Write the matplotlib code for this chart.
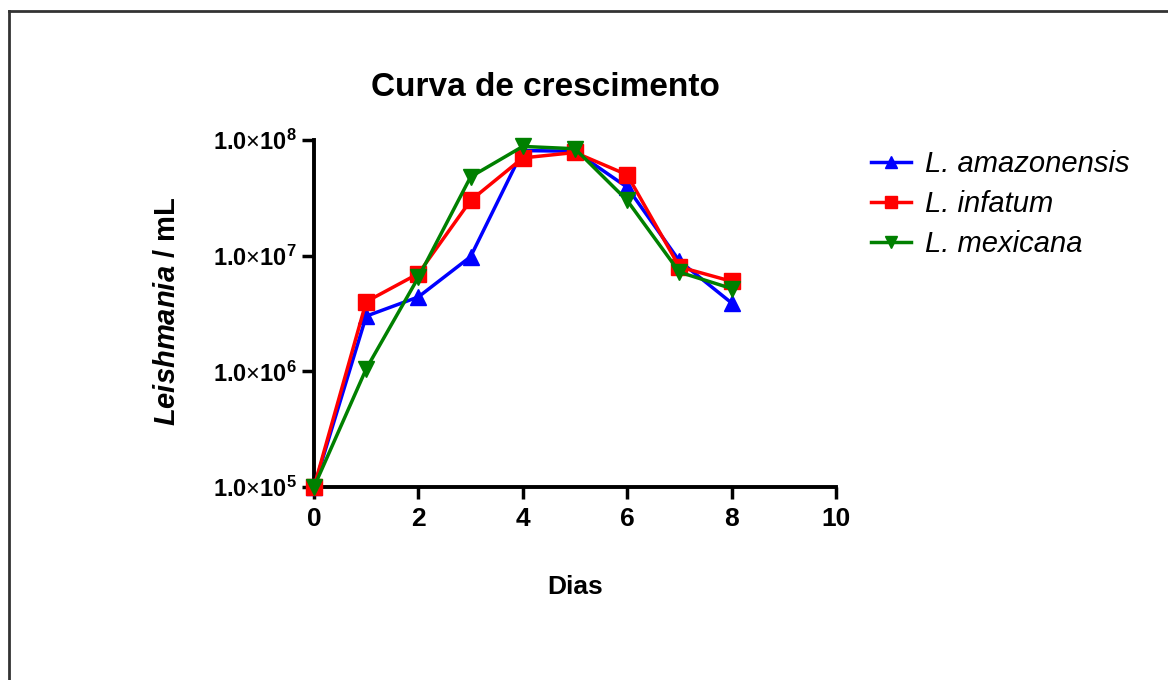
import numpy as np
import matplotlib.pyplot as plt
from matplotlib.lines import Line2D

plt.rcParams['font.family'] = ['Liberation Sans', 'DejaVu Sans']
plt.rcParams['mathtext.fontset'] = 'custom'
plt.rcParams['mathtext.rm'] = 'Liberation Sans'
plt.rcParams['mathtext.it'] = 'Liberation Sans:italic'
plt.rcParams['mathtext.bf'] = 'Liberation Sans:bold'
plt.rcParams['mathtext.bfit'] = 'Liberation Sans:italic:bold'

# growth curves (parasites per mL) by day
dias = [0, 1, 2, 3, 4, 5, 6, 7, 8]
amazonensis = [1e5, 3.0e6, 4.4e6, 9.8e6, 8.1e7, 8.0e7, 3.9e7, 9.0e6, 3.9e6]
infatum = [1e5, 4.0e6, 7.0e6, 3.0e7, 7.0e7, 7.8e7, 5.0e7, 8.0e6, 6.0e6]
mexicana = [1e5, 1.05e6, 6.5e6, 4.8e7, 8.8e7, 8.4e7, 3.0e7, 7.2e6, 5.2e6]

series = [
    (amazonensis, 'L. amazonensis', '#0000ff', '^'),
    (infatum, 'L. infatum', '#ff0000', 's'),
    (mexicana, 'L. mexicana', '#008000', 'v'),
]

x_ticks = [0, 2, 4, 6, 8, 10]
y_ticks = [1e5, 1e6, 1e7, 1e8]

fig = plt.figure(figsize=(11.68, 6.8), dpi=100)
ax = fig.add_axes([314/1168, 1 - 487/680, (836 - 314)/1168, (487 - 140)/680])

for vals, name, col, mk in series:
    ax.plot(dias, vals, color=col, marker=mk, markersize=11, linewidth=2.5,
            label=name, clip_on=False, zorder=3)

ax.set_yscale('log')
ax.set_xlim(0, 10)
ax.set_ylim(1e5, 1e8)
ax.set_xticks(x_ticks)
ax.set_xticklabels([str(t) for t in x_ticks], fontsize=19, fontweight='bold')
ax.set_yticks(y_ticks)
ax.set_yticklabels([r'$\mathbf{1.0}\mathrm{\times}\mathbf{10^{%d}}$' % int(np.log10(v))
                    for v in y_ticks], fontsize=17)
ax.minorticks_off()
ax.tick_params(direction='out', length=8.5, width=2.5)
ax.tick_params(axis='y', pad=4)
ax.tick_params(axis='x', pad=6)

for side in ['top', 'right']:
    ax.spines[side].set_visible(False)
for side in ['left', 'bottom']:
    ax.spines[side].set_linewidth(2.8)

fig.text(545/1168, 1 - 87/680, 'Curva de crescimento', fontsize=24, fontweight='bold',
         ha='center', va='center')
fig.text(575/1168, 1 - 587/680, 'Dias', fontsize=19, fontweight='bold',
         ha='center', va='center')
fig.text(167/1168, 1 - 311/680, r'$\mathbfit{Leishmania}$ / mL', fontsize=21,
         fontweight='bold', rotation=90, ha='center', va='center')

leg = ax.legend(loc='upper left', bbox_to_anchor=(845/1168, 1 - 124/680),
                bbox_transform=fig.transFigure, frameon=False, fontsize=21,
                handlelength=1.35, handletextpad=0.5, labelspacing=0.41,
                markerscale=0.85)
for t in leg.get_texts():
    t.set_fontstyle('italic')

# frame along the top and left edge
fig.add_artist(Line2D([9/1168, 9/1168], [0, 1 - 11/680], color='#333333', linewidth=2))
fig.add_artist(Line2D([9/1168, 1], [1 - 11/680, 1 - 11/680], color='#333333', linewidth=2))

fig.savefig('out.png', dpi=100)
